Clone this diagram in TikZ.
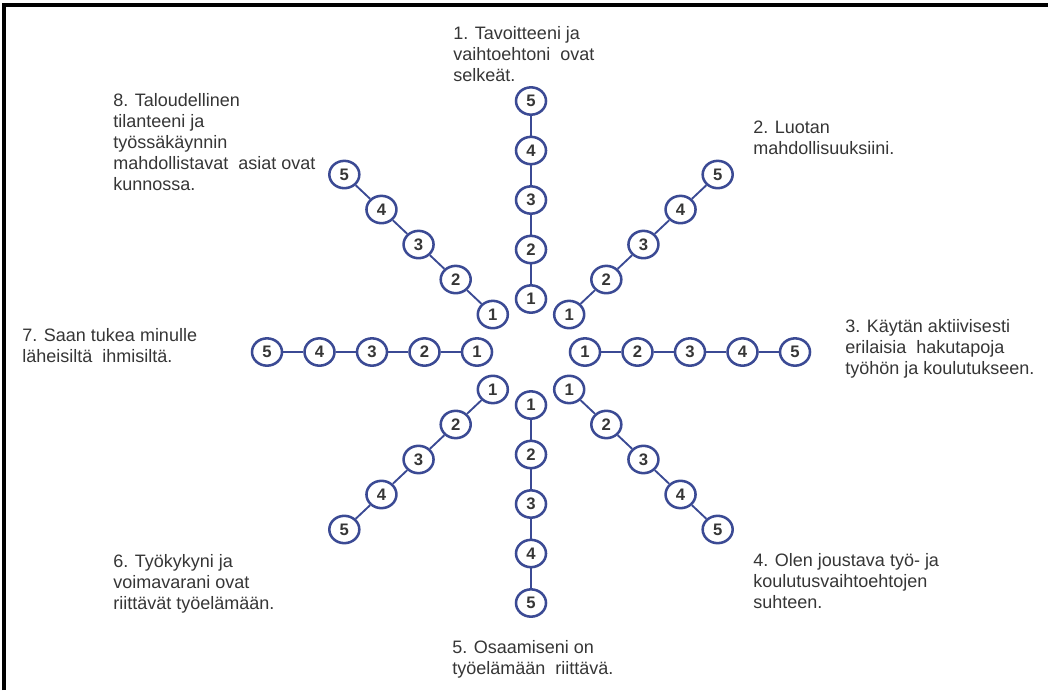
\documentclass[tikz,border=0pt]{standalone}
\usepackage{fontspec}
\setmainfont{Liberation Sans}
\usetikzlibrary{shapes.geometric}
\definecolor{ringblue}{HTML}{3B4A94}
\definecolor{txtgray}{HTML}{363636}
\begin{document}
\begin{tikzpicture}[x=0.75pt,y=-0.75pt,
  num/.style={ellipse, draw=ringblue, line width=1.9pt, fill=white,
    minimum width=22.5pt, minimum height=20.5pt, inner sep=0pt,
    font=\fontsize{12.5}{14}\selectfont\bfseries, text=txtgray},
  link/.style={draw=ringblue, line width=1.4pt},
  lbl/.style={anchor=north west, align=left, inner sep=0pt, text=txtgray,
    font=\fontsize{13.5}{15.75}\selectfont},
  frame/.style={draw=black, line width=2.3pt}]
\useasboundingbox (0,0) rectangle (1048,690);
\fill[white] (0,0) rectangle (1048,690);
\draw[frame] (4,690) -- (4,5) -- (1048,5);
% rings
\foreach \a in {1,...,8}{
  \pgfmathsetmacro\ang{90-45*(\a-1)}
  \foreach \k in {1,...,5}{
    \node[num] (n-\a-\k) at ({531+cos(\ang)*(54+52.5*(\k-1))},{352-sin(\ang)*(53+49.5*(\k-1))}) {\k};
  }
}
% connectors
\foreach \a in {1,...,8}{
  \foreach \k [evaluate=\k as \kn using int(\k+1)] in {1,...,4}{
    \draw[link] (n-\a-\k) -- (n-\a-\kn);
  }
}
% labels
\node[lbl] (t1) at (453,26) {1. Tavoitteeni ja\\vaihtoehtoni\ \ ovat\\selkeät.};
\node[lbl] (t2) at (753,121) {2. Luotan\\mahdollisuuksiini.};
\node[lbl] (t3) at (845,319) {3. Käytän aktiivisesti\\erilaisia\ \ hakutapoja\\työhön ja koulutukseen.};
\node[lbl] (t4) at (753,553) {4. Olen joustava työ- ja\\koulutusvaihtoehtojen\\suhteen.};
\node[lbl] (t5) at (452,640) {5. Osaamiseni on\\työelämään\ \ riittävä.};
\node[lbl] (t6) at (113,554) {6. Työkykyni ja\\voimavarani ovat\\riittävät työelämään.};
\node[lbl] (t7) at (22,328) {7. Saan tukea minulle\\läheisiltä\ \ ihmisiltä.};
\node[lbl] (t8) at (113,93) {8. Taloudellinen\\tilanteeni ja\\työssäkäynnin\\mahdollistavat\ \ asiat ovat\\kunnossa.};
\end{tikzpicture}
\end{document}
